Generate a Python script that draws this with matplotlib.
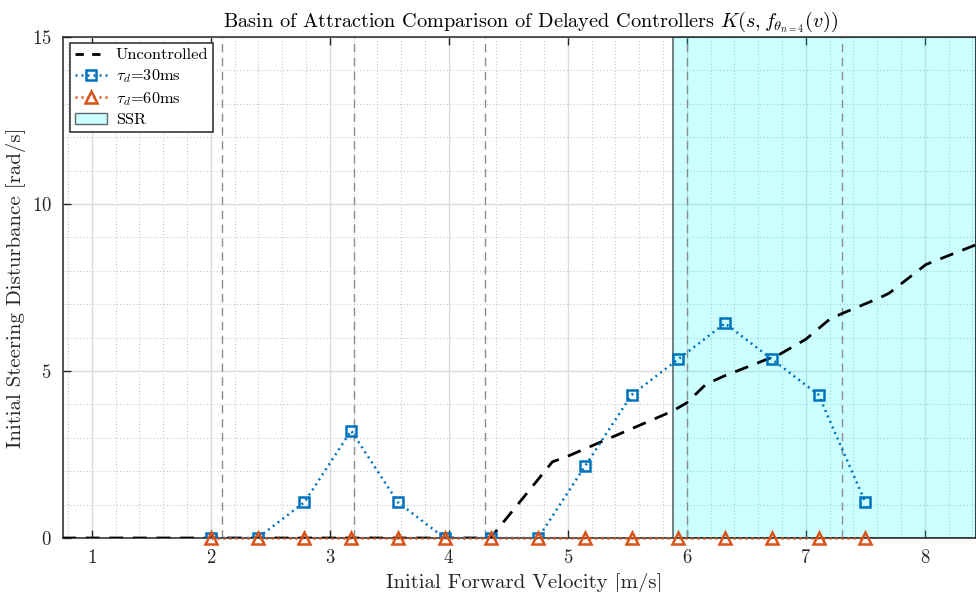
import numpy as np
import matplotlib
matplotlib.use("Agg")
import matplotlib.pyplot as plt
from matplotlib.patches import Patch
from matplotlib.lines import Line2D
from matplotlib.ticker import MultipleLocator

plt.rcParams["font.family"] = "serif"
plt.rcParams["font.serif"] = ["cmr10", "DejaVu Serif"]
plt.rcParams["mathtext.fontset"] = "cm"
plt.rcParams["axes.formatter.use_mathtext"] = True

# Uncontrolled basin boundary
v_unc = [0.75, 4.35, 4.87, 5.0, 5.88, 6.0, 6.16, 6.3, 6.78, 7.0, 7.2, 7.31, 7.62, 7.7, 8.01, 8.43]
d_unc = [0.0, 0.0, 2.28, 2.45, 3.8, 4.05, 4.6, 4.83, 5.5, 5.95, 6.55, 6.73, 7.19, 7.33, 8.19, 8.78]

# Delayed controllers, sampled velocities
v_ctrl = [2.0, 2.393, 2.786, 3.179, 3.571, 3.964, 4.357, 4.75, 5.143, 5.536, 5.929, 6.321, 6.714, 7.107, 7.5]
d_30ms = [0.0, 0.0, 1.071, 3.214, 1.071, 0.0, 0.0, 0.0, 2.143, 4.286, 5.357, 6.429, 5.357, 4.286, 1.071]
d_60ms = [0.0] * 15

# Reference velocities and stable speed range
v_marks = [2.09, 3.20, 4.30, 6.0, 7.30]
ssr_start = 5.88
x_max = 8.43

blue = "#0072BD"
orange = "#D95319"
axcol = "#262626"

fig = plt.figure(figsize=(9.76, 5.92), dpi=100)
ax = fig.add_axes([0.0645, 0.0912, 1 - 0.0645, 0.9375 - 0.0912])

ax.axvspan(ssr_start, x_max, facecolor=(0, 1, 1, 0.2), edgecolor="#5a6a6a", lw=1.2, zorder=1)
for v in v_marks:
    ax.axvline(v, color="#8c8c8c", lw=1.0, ls=(0, (6, 4)), zorder=1.5)

ax.plot(v_unc, d_unc, color="black", lw=2.0, ls=(0, (5, 3.5)), zorder=3)
ax.plot(v_ctrl, d_30ms, color=blue, lw=1.8, ls=(0, (0.8, 1.6)), marker="s", ms=6.5,
        mfc="none", mec=blue, mew=1.8, zorder=4)
ax.plot(v_ctrl, d_60ms, color=orange, lw=1.8, ls=(0, (0.8, 1.6)), marker="^", ms=9,
        mfc="none", mec=orange, mew=1.8, zorder=5, clip_on=False)

ax.set_xlim(0.757, x_max)
ax.set_ylim(0, 15)
ax.xaxis.set_major_locator(MultipleLocator(1))
ax.xaxis.set_minor_locator(MultipleLocator(0.2))
ax.yaxis.set_major_locator(MultipleLocator(5))
ax.yaxis.set_minor_locator(MultipleLocator(1))

ax.set_axisbelow(True)
ax.grid(which="major", color="#dcdcdc", lw=1.0, ls="-")
ax.grid(which="minor", color="#c8c8c8", lw=0.8, ls=(0, (1, 2)))

ax.tick_params(which="major", direction="in", length=6, width=1.0, color=axcol,
               top=True, right=False, labelsize=13.5, labelcolor=axcol)
ax.tick_params(axis="x", which="major", pad=8)
ax.tick_params(axis="y", which="major", pad=8)
ax.tick_params(which="minor", length=0)
for s in ax.spines.values():
    s.set_color(axcol)
    s.set_linewidth(1.1)

ax.set_xlabel("Initial Forward Velocity [m/s]", fontsize=15, color=axcol, labelpad=4, x=0.505)
ax.set_ylabel("Initial Steering Disturbance [rad/s]", fontsize=15, color=axcol, labelpad=4)
ax.set_title(r"Basin of Attraction Comparison of Delayed Controllers $K(s,f_{\theta_{n=4}}(v))$",
             fontsize=14.6, color="black", pad=7, x=0.512)

handles = [
    Line2D([], [], color="black", lw=2.0, ls=(0, (3, 3))),
    Line2D([], [], color=blue, lw=1.8, ls=(0, (0.8, 1.6)), marker="s", ms=6.5, mfc="none", mew=1.8),
    Line2D([], [], color=orange, lw=1.8, ls=(0, (0.8, 1.6)), marker="^", ms=9, mfc="none", mew=1.8),
    Patch(facecolor=(0.8, 1, 1), edgecolor="#5a6a6a", lw=1.0),
]
labels = ["Uncontrolled", r"$\tau_d$=30ms", r"$\tau_d$=60ms", "SSR"]
leg = ax.legend(handles, labels, loc="upper left", bbox_to_anchor=(0.0075, 0.988),
                fontsize=11.8, frameon=True, fancybox=False, framealpha=1,
                edgecolor=axcol, handlelength=2.0, handletextpad=0.5,
                borderpad=0.3, labelspacing=0.3, borderaxespad=0.0)
leg.get_frame().set_linewidth(1.1)

fig.savefig("out.png", dpi=100)
